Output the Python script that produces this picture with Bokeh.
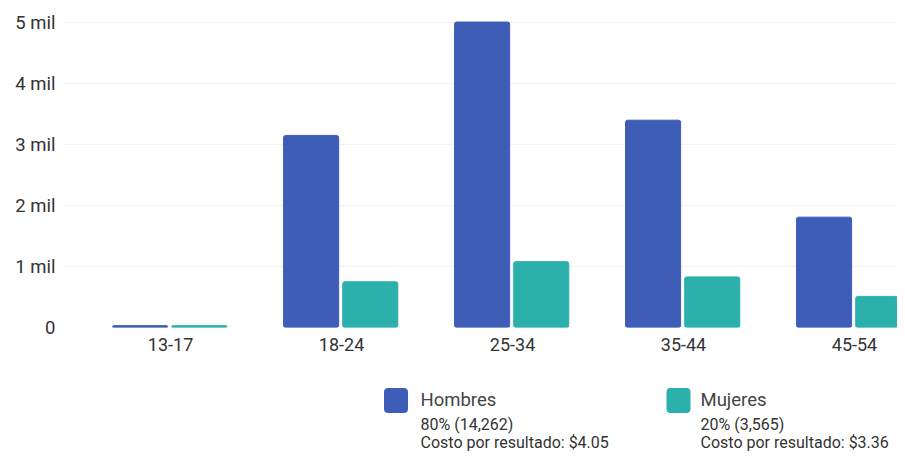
from bokeh.plotting import figure
from bokeh.models import Range1d, FixedTicker, ColumnDataSource
from bokeh.layouts import column
from bokeh.embed import file_html
from bokeh.resources import INLINE
from bokeh.core.properties import value
import numpy as np

categories = ["13-17", "18-24", "25-34", "35-44", "45-54"]
hombres = [30, 3150, 5010, 3400, 1810]
mujeres = [30, 750, 1080, 830, 510]
y_ticks = [0, 1000, 2000, 3000, 4000, 5000]
y_tick_labels = ["0", "1 mil", "2 mil", "3 mil", "4 mil", "5 mil"]
series = ["Hombres", "Mujeres"]
pct_labels = ["80% (14,262)", "20% (3,565)"]
cost_labels = ["Costo por resultado: $4.05", "Costo por resultado: $3.36"]
colors = ["#3d5db6", "#2bb0ab"]

FONT = "Roboto"
W = 897
LEFT = 62
TOP_H = 367

idx = np.arange(len(categories))
x_end = (W - 170) / 171.0
p = figure(width=W, height=TOP_H, output_backend="svg", toolbar_location=None,
           x_range=Range1d(-0.632, x_end), y_range=Range1d(0, 5150),
           min_border_left=LEFT, min_border_right=0, min_border_top=13, min_border_bottom=40)
p.outline_line_color = None
p.background_fill_color = "white"

src_h = ColumnDataSource(dict(x=idx - 0.178, top=hombres))
src_m = ColumnDataSource(dict(x=idx + 0.168, top=mujeres))
p.vbar(x="x", top="top", bottom=0, width=0.322, source=src_h, color=colors[0], border_radius=2)
p.vbar(x="x", top="top", bottom=0, width=0.322, source=src_m, color=colors[1], border_radius=2)

p.xaxis.ticker = FixedTicker(ticks=list(idx))
p.xaxis.major_label_overrides = {int(i): c for i, c in zip(idx, categories)}
p.yaxis.ticker = FixedTicker(ticks=y_ticks)
p.yaxis.major_label_overrides = {t: l for t, l in zip(y_ticks, y_tick_labels)}
for ax in (p.xaxis, p.yaxis):
    ax.axis_line_color = None
    ax.major_tick_line_color = None
    ax.minor_tick_line_color = None
    ax.major_tick_out = 0
    ax.major_tick_in = 0
    ax.major_label_text_font = FONT
    ax.major_label_text_color = "#333333"
p.xaxis.major_label_text_font_size = "18px"
p.yaxis.major_label_text_font_size = "18.5px"
p.yaxis.major_label_standoff = 7
p.xaxis.major_label_standoff = 10
p.xgrid.grid_line_color = None
p.ygrid.grid_line_color = "#f3f3f3"

# legend panel (frame is aligned with the chart frame by the column layout)
LH = 90
lg = figure(width=W, height=LH, output_backend="svg", toolbar_location=None,
            x_range=Range1d(LEFT, W), y_range=Range1d(TOP_H + LH, TOP_H),
            x_axis_location=None, y_axis_location=None,
            min_border_left=LEFT, min_border_right=0, min_border_top=0, min_border_bottom=0)
lg.grid.visible = False
lg.outline_line_color = None
sq_x = [395.5, 678]
tx_x = [420, 700]
lg.rect(x=sq_x, y=[400, 400], width=23, height=24, color=colors, border_radius=3)
lg.text(x=tx_x, y=[399, 399], text=series, text_font=value(FONT), text_font_size="18.5px",
        text_color="#444444", text_baseline="alphabetic")
lg.text(x=tx_x, y=[423.5, 423.5], text=pct_labels, text_font=value(FONT), text_font_size="16px",
        text_color="#333333", text_baseline="alphabetic")
lg.text(x=tx_x, y=[441.5, 441.5], text=cost_labels, text_font=value(FONT), text_font_size="16px",
        text_color="#333333", text_baseline="alphabetic")

layout = column(p, lg, spacing=0)
open("out.html", "w").write(file_html(layout, INLINE))
